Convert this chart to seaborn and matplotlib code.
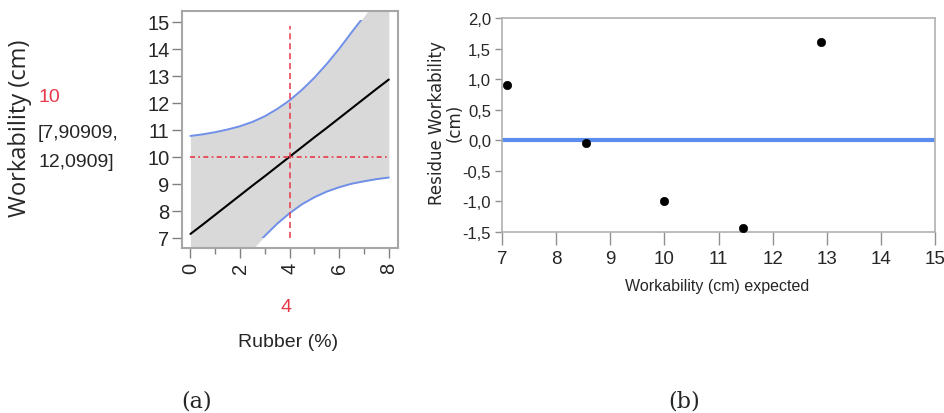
import matplotlib
matplotlib.use("Agg")
import matplotlib.pyplot as plt
import matplotlib.patches as mpatches
import seaborn as sns
import pandas as pd

sns.set_style("white")
plt.rcParams['font.family'] = ['Liberation Sans', 'DejaVu Sans']

# --- data ---
rubber = [0, 0.5, 1, 1.5, 2, 2.5, 3, 3.5, 4, 4.5, 5, 5.5, 6, 6.5, 7, 7.5, 8]
fit = [7.14, 7.49, 7.85, 8.21, 8.57, 8.93, 9.28, 9.64, 10.0,
       10.36, 10.72, 11.07, 11.43, 11.79, 12.15, 12.51, 12.86]
upper = [10.77, 10.83, 10.91, 11.01, 11.13, 11.29, 11.50, 11.77, 12.09,
         12.48, 12.93, 13.44, 14.00, 14.61, 15.20, 15.84, 16.50]
lower = [3.51, 4.16, 4.80, 5.42, 6.00, 6.56, 7.07, 7.52, 7.91,
         8.24, 8.50, 8.71, 8.87, 9.00, 9.09, 9.17, 9.23]
y_ticks_a = [7, 8, 9, 10, 11, 12, 13, 14, 15]
x_ticks_a = [0, 2, 4, 6, 8]
pred_value = "10"
pred_interval = ["[7,90909,", "12,0909]"]
rubber_current = 4

expected = [7.1, 8.55, 10.0, 11.45, 12.9]
residue = [0.91, -0.04, -0.99, -1.44, 1.61]
y_ticks_b = [-1.5, -1.0, -0.5, 0.0, 0.5, 1.0, 1.5, 2.0]
x_ticks_b = [7, 8, 9, 10, 11, 12, 13, 14, 15]

prof = pd.DataFrame({'rubber': rubber, 'fit': fit, 'upper': upper, 'lower': lower})
res = pd.DataFrame({'expected': expected, 'residue': residue})

red = '#e8384a'
spine_gray = '#a6a6a6'

fig = plt.figure(figsize=(9.44, 4.14), dpi=100)

# --- (a) prediction profiler ---
ax1 = fig.add_axes([0.1928, 0.3986, 0.2288, 0.5725])
ax1.fill_between(prof['rubber'], prof['lower'], prof['upper'], color='#d9d9d9', lw=0)
clip = mpatches.Rectangle((-1, 7.0), 10, 8.05, transform=ax1.transData)
for col in ['upper', 'lower']:
    sns.lineplot(data=prof, x='rubber', y=col, ax=ax1, color='#6f8fe8', lw=1.4)
for ln in ax1.lines:
    ln.set_clip_path(clip)
sns.lineplot(data=prof, x='rubber', y='fit', ax=ax1, color='black', lw=1.5)
ax1.plot([rubber_current, rubber_current], [7, 14.85], color=red, lw=1.1,
         linestyle=(0, (4, 2.5)))
ax1.plot([0, 8], [10, 10], color=red, lw=1.2, linestyle=(0, (3, 2, 1, 2)))

ax1.set_xlim(-0.34, 8.37)
ax1.set_ylim(6.62, 15.4)
ax1.set_yticks(y_ticks_a)
ax1.set_xticks(x_ticks_a)
ax1.set_xticks([1, 3, 5, 7], minor=True)
ax1.tick_params(axis='y', which='major', length=7, width=1, color='#808080',
                labelsize=14.5, pad=2, left=True)
ax1.tick_params(axis='x', which='major', length=7, width=1, color='#808080',
                labelsize=14.5, pad=3, bottom=True, labelrotation=90)
ax1.tick_params(axis='x', which='minor', length=4, width=1, color='#808080', bottom=True)
for s in ax1.spines.values():
    s.set_color(spine_gray)
    s.set_linewidth(1.5)
ax1.set_xlabel('')
ax1.set_ylabel('')

fig.text(20 / 944, 1 - 128 / 414, 'Workability (cm)', rotation=90, ha='center', va='center',
         fontsize=17, family=['Open Sans', 'DejaVu Sans'])
fig.text(38 / 944, 1 - 98 / 414, pred_value, color=red, ha='left', va='center', fontsize=14)
fig.text(38 / 944, 1 - 133 / 414, pred_interval[0], ha='left', va='center', fontsize=14)
fig.text(38 / 944, 1 - 163 / 414, pred_interval[1], ha='left', va='center', fontsize=14)
fig.text(286 / 944, 1 - 308 / 414, str(rubber_current), color=red, ha='center', va='center',
         fontsize=14)
fig.text(288 / 944, 1 - 343 / 414, 'Rubber (%)', ha='center', va='center', fontsize=14)

# --- (b) residual plot ---
ax2 = fig.add_axes([0.5318, 0.4372, 0.4587, 0.5162])
ax2.axhline(0, color='#5b8def', lw=3, zorder=1)
sns.scatterplot(data=res, x='expected', y='residue', ax=ax2, color='black', s=36,
                edgecolor='black', zorder=3)
ax2.set_xlim(7, 15)
ax2.set_ylim(-1.5, 2.0)
ax2.set_xticks(x_ticks_b)
ax2.set_yticks(y_ticks_b)
ax2.set_yticklabels([f"{v:.1f}".replace('.', ',') for v in y_ticks_b])
ax2.tick_params(axis='y', length=5, width=1, color='#909090', labelsize=12,
                left=True, pad=3)
ax2.tick_params(axis='x', length=9, width=1, color='#909090', labelsize=13.5,
                bottom=True, pad=4)
for s in ax2.spines.values():
    s.set_color('#b0b0b0')
    s.set_linewidth(1.2)
ax2.set_xlabel('')
ax2.set_ylabel('')
fig.text(717 / 944, 1 - 287 / 414, 'Workability (cm) expected', ha='center', va='center',
         fontsize=11.5)
fig.text(446 / 944, 1 - 123 / 414, 'Residue Workability\n(cm)', rotation=90, ha='center',
         va='center', multialignment='center', linespacing=1.0, fontsize=12,
         family=['DejaVu Sans'])

# captions
fig.text(197 / 944, 1 - 402 / 414, '(a)', ha='center', va='center', fontsize=16,
         family=['DejaVu Serif'])
fig.text(684 / 944, 1 - 402 / 414, '(b)', ha='center', va='center', fontsize=16,
         family=['DejaVu Serif'])

fig.savefig('out.png', dpi=100)
